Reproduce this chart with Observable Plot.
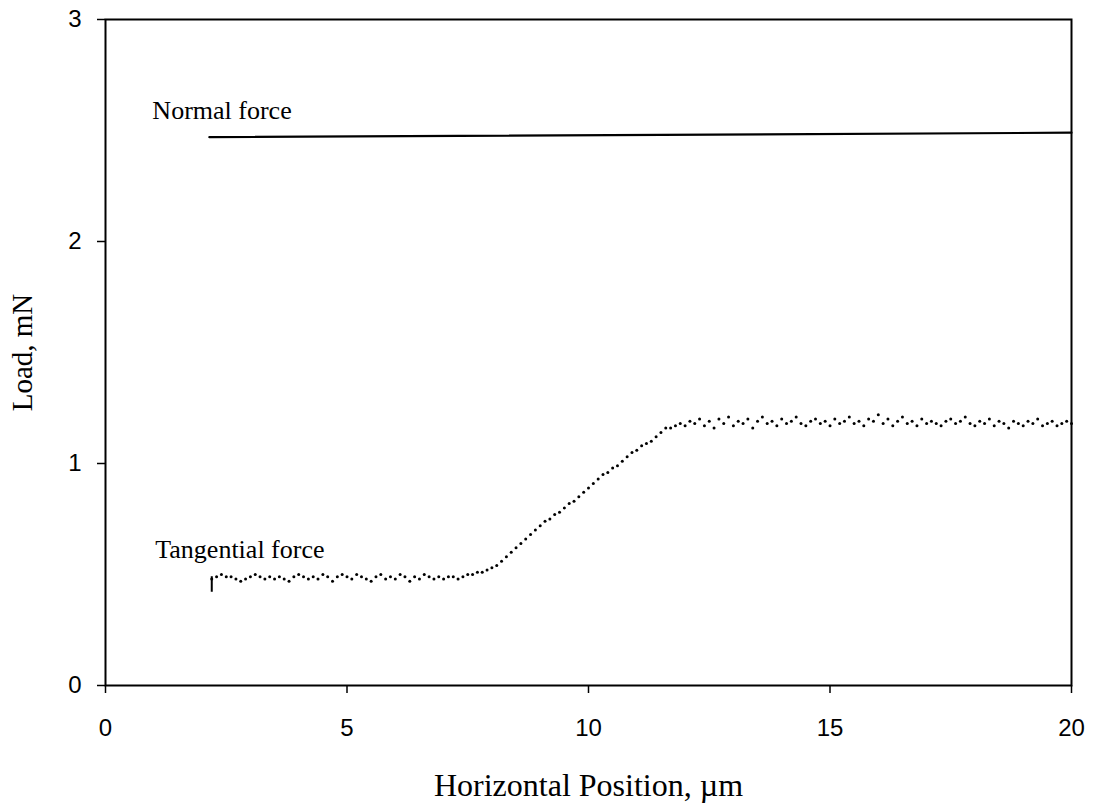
<!DOCTYPE html>
<html>
<head>
<meta charset="utf-8">
<script src="https://cdn.jsdelivr.net/npm/d3@7"></script>
<script src="https://cdn.jsdelivr.net/npm/@observablehq/plot@0.6"></script>
<style>
  html, body { margin: 0; padding: 0; background: #fff; }
  #chart svg { display: block; background: #fff; }
</style>
</head>
<body>
<div id="chart"></div>
<script>
// Axis ticks
const xTicks = [0, 5, 10, 15, 20];
const yTicks = [0, 1, 2, 3];

// Normal force (straight line)
const normalX = [2.15, 20];
const normalY = [2.47, 2.49];

// Tangential force samples (µm, mN)
const tangentialX = [
  2.2,2.3,2.4,2.5,2.6,2.7,2.8,2.9,3.0,3.1,3.2,3.3,3.4,3.5,3.6,3.7,3.8,3.9,4.0,4.1,
  4.2,4.3,4.4,4.5,4.6,4.7,4.8,4.9,5.0,5.1,5.2,5.3,5.4,5.5,5.6,5.7,5.8,5.9,6.0,6.1,
  6.2,6.3,6.4,6.5,6.6,6.7,6.8,6.9,7.0,7.1,7.2,7.3,7.4,7.5,7.6,7.7,
  7.8,7.9,8.0,8.1,8.2,8.3,8.4,8.5,8.6,8.7,8.8,8.9,9.0,9.1,9.2,9.3,9.4,9.5,9.6,9.7,
  9.8,9.9,10.0,10.1,10.2,10.3,10.4,10.5,10.6,10.7,10.8,10.9,11.0,11.1,11.2,11.3,11.4,11.5,11.6,11.7,
  11.8,11.9,12.0,12.1,12.2,12.3,12.4,12.5,12.6,12.7,
  12.8,12.9,13.0,13.1,13.2,13.3,13.4,13.5,13.6,13.7,
  13.8,13.9,14.0,14.1,14.2,14.3,14.4,14.5,14.6,14.7,
  14.8,14.9,15.0,15.1,15.2,15.3,15.4,15.5,15.6,15.7,
  15.8,15.9,16.0,16.1,16.2,16.3,16.4,16.5,16.6,16.7,
  16.8,16.9,17.0,17.1,17.2,17.3,17.4,17.5,17.6,17.7,
  17.8,17.9,18.0,18.1,18.2,18.3,18.4,18.5,18.6,18.7,
  18.8,18.9,19.0,19.1,19.2,19.3,19.4,19.5,19.6,19.7,
  19.8,19.9,20.0
];
const tangentialY = [
  0.48,0.49,0.50,0.49,0.49,0.48,0.47,0.48,0.49,0.50,0.49,0.48,0.49,0.48,0.49,0.48,0.47,0.49,0.50,0.49,
  0.48,0.49,0.48,0.50,0.49,0.47,0.49,0.50,0.49,0.48,0.50,0.49,0.48,0.47,0.49,0.50,0.48,0.49,0.48,0.50,
  0.49,0.47,0.49,0.48,0.50,0.49,0.48,0.49,0.48,0.49,0.49,0.48,0.49,0.50,0.50,0.51,
  0.51,0.52,0.53,0.54,0.56,0.58,0.60,0.62,0.64,0.66,0.68,0.70,0.72,0.74,0.75,0.77,0.78,0.80,0.82,0.83,
  0.85,0.87,0.89,0.91,0.93,0.95,0.96,0.98,0.99,1.01,1.03,1.05,1.06,1.08,1.09,1.10,1.12,1.14,1.16,1.16,
  1.17,1.18,1.17,1.19,1.18,1.20,1.17,1.19,1.16,1.20,
  1.18,1.21,1.17,1.19,1.18,1.20,1.16,1.19,1.21,1.18,
  1.19,1.17,1.20,1.18,1.19,1.21,1.18,1.17,1.19,1.20,
  1.18,1.19,1.17,1.20,1.18,1.19,1.21,1.18,1.19,1.17,
  1.20,1.19,1.22,1.18,1.20,1.17,1.19,1.21,1.18,1.19,
  1.17,1.20,1.18,1.19,1.18,1.17,1.19,1.20,1.18,1.19,
  1.21,1.18,1.17,1.19,1.18,1.20,1.17,1.19,1.18,1.16,
  1.19,1.18,1.17,1.19,1.18,1.20,1.17,1.18,1.19,1.17,
  1.18,1.19,1.18
];

// Start marker of tangential trace
const startMarkX = [2.2];
const startMarkY1 = [0.42];
const startMarkY2 = [0.49];

// Curve labels
const labelText = ["Normal force", "Tangential force"];
const labelX = [0.97, 1.03];
const labelY = [2.59, 0.61];

const xTitle = "Horizontal Position, \u00b5m";
const yTitle = "Load, mN";

const tangential = tangentialX.map((x, i) => ({x, y: tangentialY[i]}));
const normal = normalX.map((x, i) => ({x, y: normalY[i]}));
const startMark = startMarkX.map((x, i) => ({x, y1: startMarkY1[i], y2: startMarkY2[i]}));
const labels = labelText.map((t, i) => ({t, x: labelX[i], y: labelY[i]}));

const serif = "'Liberation Serif', 'Times New Roman', Times, serif";
const sans = "'Liberation Sans', Arial, Helvetica, sans-serif";

const chart = Plot.plot({
  width: 1094,
  height: 806,
  marginLeft: 105,
  marginRight: 23,
  marginTop: 19,
  marginBottom: 121,
  style: {background: "#fff", color: "#000"},
  x: {domain: [0, 20]},
  y: {domain: [0, 3]},
  marks: [
    Plot.frame({stroke: "#000", strokeWidth: 2}),
    Plot.axisX({ticks: xTicks, tickSize: 8, tickFormat: () => "", label: null, strokeWidth: 1.5}),
    Plot.axisY({ticks: yTicks, tickSize: 8, tickFormat: () => "", label: null, strokeWidth: 1.5}),
    // tick labels
    Plot.text(xTicks, {x: d => d, frameAnchor: "bottom", dy: 43, textAnchor: "middle", lineAnchor: "middle",
      text: d => String(d), fontSize: 24, fontFamily: sans, fill: "#000"}),
    Plot.text(yTicks, {y: d => d, frameAnchor: "left", dx: -24, textAnchor: "end", lineAnchor: "middle",
      text: d => String(d), fontSize: 24, fontFamily: sans, fill: "#000"}),
    Plot.line(normal, {x: "x", y: "y", stroke: "#000", strokeWidth: 2.2}),
    Plot.ruleX(startMark, {x: "x", y1: "y1", y2: "y2", stroke: "#000", strokeWidth: 2}),
    Plot.dot(tangential, {x: "x", y: "y", r: 1.5, fill: "#000", stroke: "none"}),
    Plot.text(labels, {x: "x", y: "y", text: "t", textAnchor: "start", lineAnchor: "middle",
      fontSize: 26, fontFamily: serif, fill: "#000"}),
    Plot.text([xTitle], {frameAnchor: "bottom", dy: 100, textAnchor: "middle", lineAnchor: "middle",
      fontSize: 32, fontFamily: serif, fill: "#000"}),
    Plot.text([yTitle], {frameAnchor: "left", dx: -83, rotate: -90, textAnchor: "middle", lineAnchor: "middle",
      fontSize: 29, fontFamily: serif, fill: "#000"})
  ]
});
document.getElementById("chart").appendChild(chart);
</script>
</body>
</html>
